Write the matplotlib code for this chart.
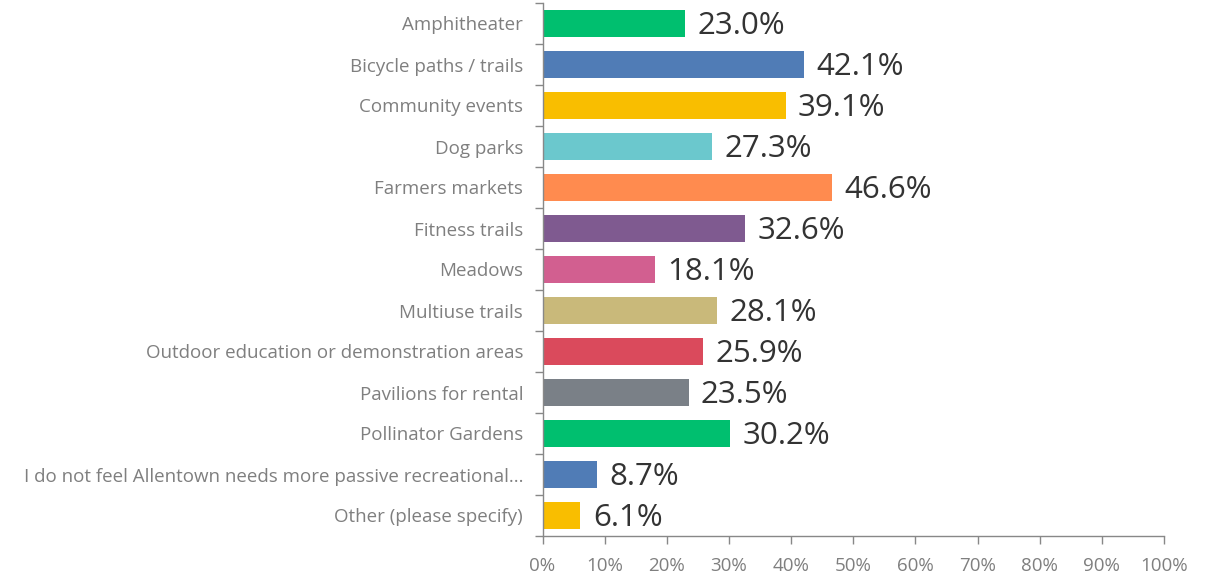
import matplotlib
matplotlib.use("Agg")
import matplotlib.pyplot as plt

categories = [
    "Amphitheater",
    "Bicycle paths / trails",
    "Community events",
    "Dog parks",
    "Farmers markets",
    "Fitness trails",
    "Meadows",
    "Multiuse trails",
    "Outdoor education or demonstration areas",
    "Pavilions for rental",
    "Pollinator Gardens",
    "I do not feel Allentown needs more passive recreational...",
    "Other (please specify)",
]
values = [23.0, 42.1, 39.1, 27.3, 46.6, 32.6, 18.1, 28.1, 25.9, 23.5, 30.2, 8.7, 6.1]
colors = ["#00BF6F", "#507CB6", "#F9BE00", "#6BC8CD", "#FF8B4F", "#7F5A90",
          "#D25F90", "#C9B97A", "#DA4A5C", "#7A8087", "#00BF6F", "#507CB6", "#F9BE00"]
xticks = [0, 10, 20, 30, 40, 50, 60, 70, 80, 90, 100]

plt.rcParams['font.family'] = ['Open Sans', 'DejaVu Sans']

fig = plt.figure(figsize=(12.21, 5.77), dpi=100)
ax = fig.add_axes([542.5/1221, 1-536/577, (1164-542.5)/1221, (536-3)/577])

n = len(categories)
ypos = list(range(n))
ax.barh(ypos, values, height=0.68, color=colors)
for y, v in zip(ypos, values):
    ax.text(v + 2.0, y + 0.06, f"{v:.1f}%", va='center', ha='left', fontsize=22.5, color='#333333')

ax.set_ylim(n - 0.5, -0.5)
ax.set_xlim(0, 100)
ax.set_yticks(ypos)
ax.set_yticklabels(categories, fontsize=13.5, color='#7F7F7F')
ax.set_yticks([i - 0.5 for i in range(n + 1)], minor=True)
ax.tick_params(axis='y', which='major', length=0, pad=14)
ax.tick_params(axis='y', which='minor', length=6, color='#888888', width=1)
ax.set_xticks(xticks)
ax.set_xticklabels([f"{t}%" for t in xticks], fontsize=13.5, color='#7F7F7F')
ax.tick_params(axis='x', length=6, color='#888888', width=1, pad=9)
for s in ['top', 'right']:
    ax.spines[s].set_visible(False)
for s in ['left', 'bottom']:
    ax.spines[s].set_color('#888888')
    ax.spines[s].set_linewidth(1)

fig.savefig("out.png", dpi=100)
